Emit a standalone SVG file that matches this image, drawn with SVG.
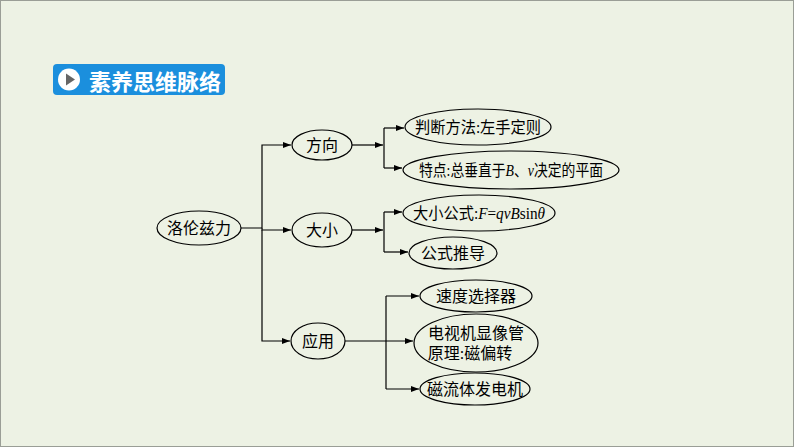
<svg xmlns="http://www.w3.org/2000/svg" width="794" height="447" viewBox="0 0 794 447">
<style>
.n{fill:none;stroke:#000;stroke-width:1.2}
.t{font-family:"Liberation Serif","Noto Sans CJK SC",serif;font-size:16px;fill:#000;text-anchor:middle;dominant-baseline:central}
.c path{fill:none;stroke:#000;stroke-width:1.2}
</style>
<defs><marker id="a" markerWidth="8" markerHeight="6" refX="8" refY="3" orient="auto" markerUnits="userSpaceOnUse"><path d="M0,0L8,3L0,6z" fill="#000"/></marker></defs>
<rect x="0.5" y="0.5" width="793" height="446" fill="#edf2e4" stroke="#9a9e96"/>
<g id="title">
<rect x="53" y="64" width="172" height="31" rx="4" fill="#1b8fdd"/>
<circle cx="69" cy="79.5" r="11" fill="#fff"/>
<path d="M66,73.5L75,79.5L66,85.5z" fill="#666"/>
<text x="155" y="80" textLength="132" style="font-family:'Noto Sans CJK SC',sans-serif;font-size:22px;font-weight:bold;fill:#fff;text-anchor:middle;dominant-baseline:central">素养思维脉络</text>
</g>
<g class="c" id="connectors">
<path d="M241,228H262V145H291" marker-end="url(#a)"/>
<path d="M262,228V230H291" marker-end="url(#a)"/>
<path d="M262,230V341H290" marker-end="url(#a)"/>
<path d="M352,145H383" marker-end="url(#a)"/>
<path d="M384,128V168" />
<path d="M384,128H404" marker-end="url(#a)"/>
<path d="M384,168H402" marker-end="url(#a)"/>
<path d="M352,230H383" marker-end="url(#a)"/>
<path d="M384,212V252"/>
<path d="M384,212H402" marker-end="url(#a)"/>
<path d="M384,252H408" marker-end="url(#a)"/>
<path d="M345,341H413" marker-end="url(#a)"/>
<path d="M386,296V389"/>
<path d="M386,296H419" marker-end="url(#a)"/>
<path d="M386,389H419" marker-end="url(#a)"/>
</g>
<g id="root"><ellipse class="n" cx="199" cy="228" rx="42" ry="17"/><text class="t" x="199" y="228">洛伦兹力</text></g>
<g id="fx"><ellipse class="n" cx="322" cy="145" rx="30" ry="15"/><text class="t" x="322" y="145">方向</text></g>
<g id="dx"><ellipse class="n" cx="322" cy="230" rx="30" ry="17"/><text class="t" x="322" y="230">大小</text></g>
<g id="yy"><ellipse class="n" cx="318" cy="341" rx="27" ry="18"/><text class="t" x="318" y="341">应用</text></g>
<g id="pd"><ellipse class="n" cx="478" cy="127" rx="73" ry="18"/><text class="t" x="478" y="127" textLength="126" lengthAdjust="spacingAndGlyphs">判断方法:左手定则</text></g>
<g id="td"><ellipse class="n" cx="511" cy="170" rx="108" ry="19"/><text class="t" x="511" y="170" textLength="184" lengthAdjust="spacingAndGlyphs">特点:总垂直于<tspan font-style="italic">B</tspan>、<tspan font-style="italic">v</tspan>决定的平面</text></g>
<g id="gs"><ellipse class="n" cx="479" cy="213" rx="76" ry="18"/><text class="t" x="479" y="213" textLength="132" lengthAdjust="spacingAndGlyphs">大小公式:<tspan font-style="italic">F</tspan>=<tspan font-style="italic">qvB</tspan>sin<tspan font-style="italic">θ</tspan></text></g>
<g id="tb"><ellipse class="n" cx="453" cy="253" rx="44" ry="16"/><text class="t" x="453" y="253">公式推导</text></g>
<g id="sd"><ellipse class="n" cx="476" cy="296" rx="56" ry="16"/><text class="t" x="476" y="296">速度选择器</text></g>
<g id="ds"><ellipse class="n" cx="476" cy="343" rx="62" ry="29"/><text class="t" x="476" y="333">电视机显像管</text><text class="t" x="470" y="353">原理:磁偏转</text></g>
<g id="cl"><ellipse class="n" cx="475" cy="389" rx="55" ry="16"/><text class="t" x="475" y="389">磁流体发电机</text></g>
</svg>
